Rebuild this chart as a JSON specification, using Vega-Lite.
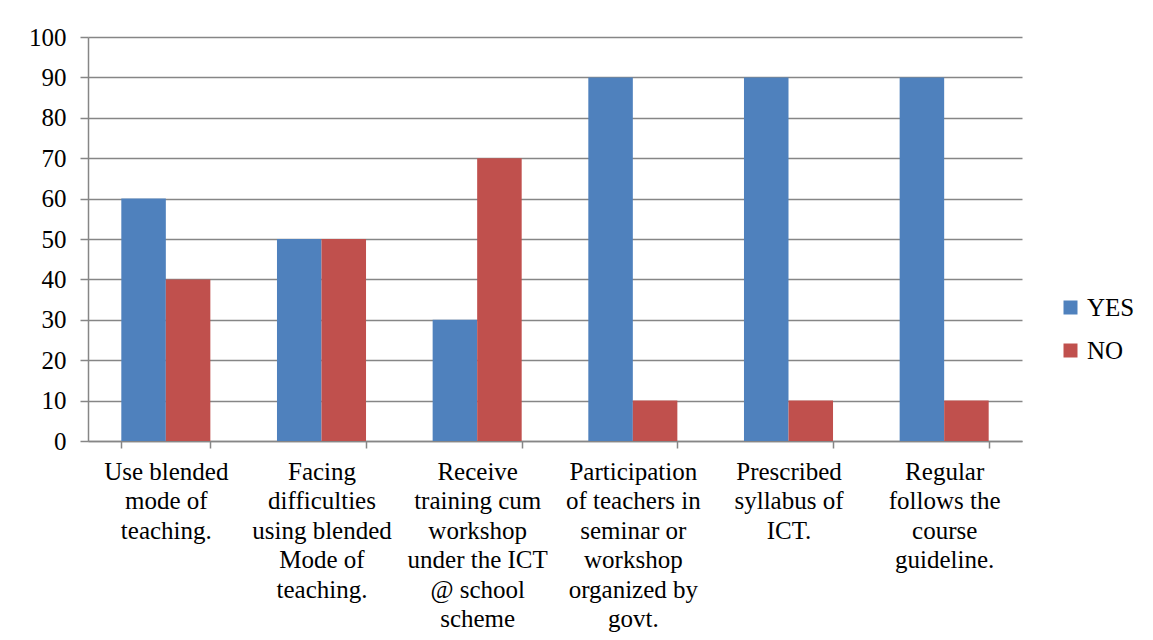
{
  "$schema": "https://vega.github.io/schema/vega-lite/v6.json",
  "width": 934,
  "height": 404,
  "autosize": {"type": "none"},
  "padding": {"left": 88, "top": 37, "right": 131, "bottom": 199},
  "background": "white",
  "data": {
    "values": [
      {"item": "Use blended|mode of|teaching.", "answer": "YES", "percent": 60},
      {"item": "Use blended|mode of|teaching.", "answer": "NO", "percent": 40},
      {"item": "Facing|difficulties|using blended|Mode of|teaching.", "answer": "YES", "percent": 50},
      {"item": "Facing|difficulties|using blended|Mode of|teaching.", "answer": "NO", "percent": 50},
      {"item": "Receive|training cum|workshop|under the ICT|@ school|scheme", "answer": "YES", "percent": 30},
      {"item": "Receive|training cum|workshop|under the ICT|@ school|scheme", "answer": "NO", "percent": 70},
      {"item": "Participation|of teachers in|seminar or|workshop|organized by|govt.", "answer": "YES", "percent": 90},
      {"item": "Participation|of teachers in|seminar or|workshop|organized by|govt.", "answer": "NO", "percent": 10},
      {"item": "Prescribed|syllabus of|ICT.", "answer": "YES", "percent": 90},
      {"item": "Prescribed|syllabus of|ICT.", "answer": "NO", "percent": 10},
      {"item": "Regular|follows the|course|guideline.", "answer": "YES", "percent": 90},
      {"item": "Regular|follows the|course|guideline.", "answer": "NO", "percent": 10}
    ]
  },
  "mark": {"type": "bar"},
  "encoding": {
    "x": {
      "field": "item",
      "type": "nominal",
      "sort": null,
      "scale": {"paddingInner": 0.428, "paddingOuter": 0.214},
      "axis": {
        "title": null,
        "labelAngle": 0,
        "labelExpr": "split(datum.label, '|')",
        "labelFont": "Liberation Serif",
        "labelFontSize": 25,
        "labelLineHeight": 29.5,
        "labelBaseline": "top",
        "labelPadding": 11,
        "labelLimit": 0,
        "tickBand": "extent",
        "tickSize": 7,
        "grid": false
      }
    },
    "xOffset": {
      "field": "answer",
      "type": "nominal",
      "sort": ["YES", "NO"],
      "scale": {"paddingInner": 0, "paddingOuter": 0}
    },
    "y": {
      "field": "percent",
      "type": "quantitative",
      "scale": {"domain": [0, 100]},
      "axis": {
        "title": null,
        "values": [0, 10, 20, 30, 40, 50, 60, 70, 80, 90, 100],
        "labelFont": "Liberation Serif",
        "labelFontSize": 25,
        "tickSize": 8,
        "labelPadding": 14,
        "grid": true
      }
    },
    "color": {
      "field": "answer",
      "type": "nominal",
      "sort": ["YES", "NO"],
      "scale": {"domain": ["YES", "NO"], "range": ["#4F81BD", "#C0504D"]},
      "legend": {
        "title": null,
        "orient": "none",
        "legendX": 970,
        "legendY": 258,
        "labelFont": "Liberation Serif",
        "labelFontSize": 25,
        "symbolType": "square",
        "symbolSize": 196,
        "symbolStrokeWidth": 0,
        "labelOffset": 4,
        "rowPadding": 17
      }
    }
  },
  "config": {
    "font": "Liberation Serif",
    "view": {"stroke": null},
    "axis": {
      "labelColor": "#000000",
      "domainColor": "#868686",
      "tickColor": "#868686",
      "gridColor": "#868686",
      "domainWidth": 1.5,
      "tickWidth": 1.5,
      "gridWidth": 1.5
    },
    "legend": {
      "labelColor": "#000000"
    }
  }
}
